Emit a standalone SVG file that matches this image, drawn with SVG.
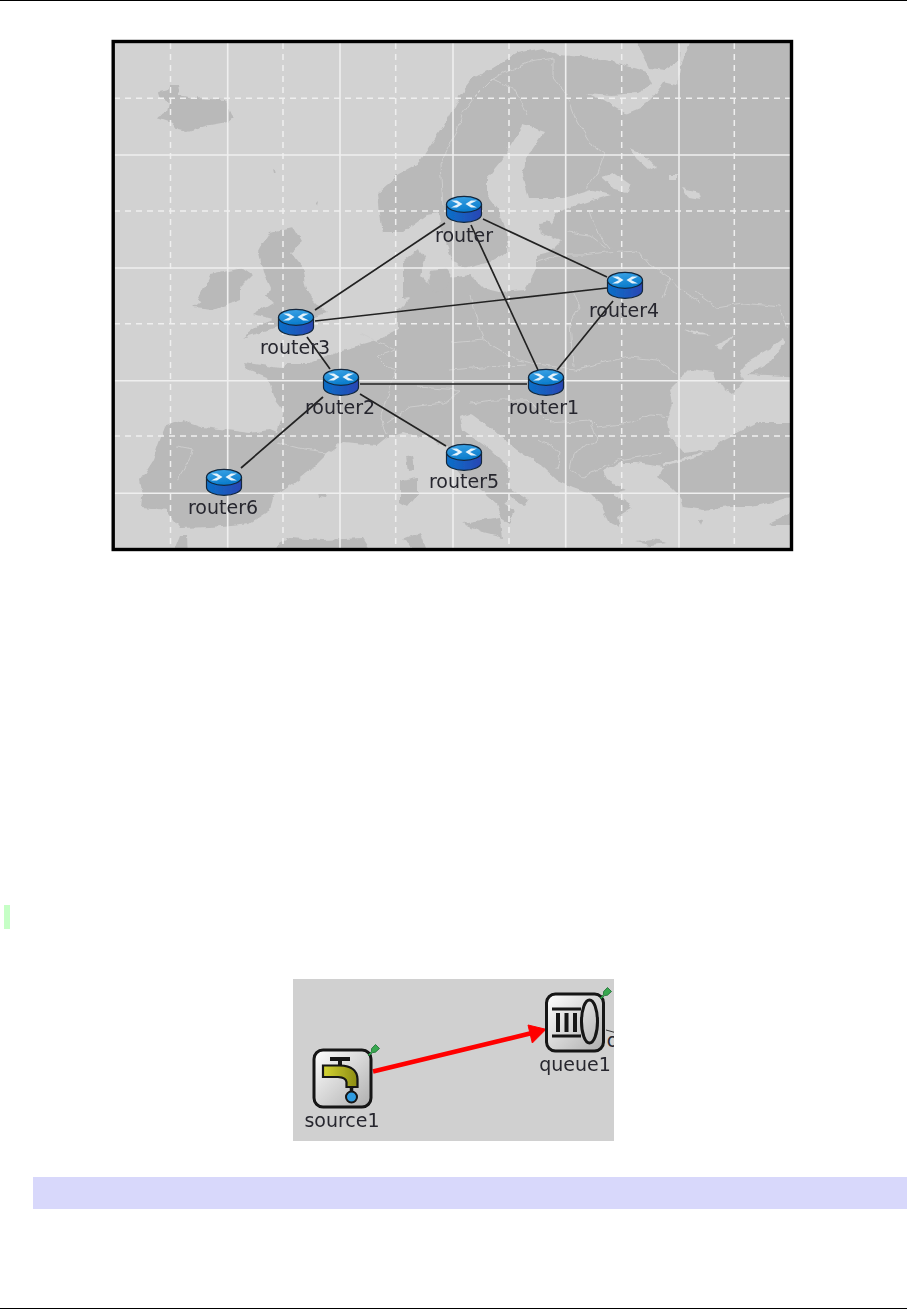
<svg xmlns="http://www.w3.org/2000/svg" xmlns:xlink="http://www.w3.org/1999/xlink" width="907" height="1310" viewBox="0 0 907 1310">
<style>
text{font-family:"DejaVu Sans","Liberation Sans",sans-serif;font-size:19px;fill:#26262e;text-anchor:middle}
.land{fill:#b9b9b9}
.sea{fill:#d2d2d2}
.border{fill:none;stroke:#cdcdcd;stroke-width:1}
.solid{stroke:#efefef;stroke-width:1.6;fill:none}
.dash{stroke:#efefef;stroke-width:1.5;stroke-dasharray:6 5;fill:none}
.link{stroke:#222222;stroke-width:1.7;fill:none}
.tile{stroke:#121212;stroke-width:3;fill:url(#tileGrad)}
.blk{stroke:#121212;fill:none}
.node{filter:url(#crisp)}
</style>
<defs>
<linearGradient id="topGrad" x1="0" y1="0" x2="0.3" y2="1"><stop offset="0" stop-color="#3fa6e8"/><stop offset="1" stop-color="#0a7ccc"/></linearGradient>
<linearGradient id="sideGrad" x1="0" y1="0" x2="1" y2="0"><stop offset="0" stop-color="#0a70c8"/><stop offset="1" stop-color="#2a46b4"/></linearGradient>
<linearGradient id="tileGrad" x1="0" y1="0" x2="1" y2="1"><stop offset="0" stop-color="#ffffff"/><stop offset="1" stop-color="#aeaeae"/></linearGradient>
<linearGradient id="tapGrad" x1="0" y1="0" x2="1" y2="0"><stop offset="0" stop-color="#d4d434"/><stop offset="1" stop-color="#8c8c14"/></linearGradient>
<filter id="rough" filterUnits="userSpaceOnUse" x="100" y="30" width="710" height="530">
<feTurbulence type="fractalNoise" baseFrequency="0.09" numOctaves="3" seed="4" result="n"/>
<feDisplacementMap in="SourceGraphic" in2="n" scale="6" xChannelSelector="R" yChannelSelector="G"/>
<feGaussianBlur stdDeviation="0.6"/>
</filter>
<filter id="crisp" x="-10%" y="-10%" width="120%" height="120%"><feGaussianBlur stdDeviation="0.35"/></filter>
<clipPath id="mapClip"><rect x="114" y="43" width="677" height="506"/></clipPath>
<clipPath id="shotClip"><rect x="293" y="979" width="321" height="162"/></clipPath>
<g id="routerIcon">
<path d="M-17.5,-4.7V5.3A17.5,8 0 0 0 17.5,5.3V-4.7Z" fill="url(#sideGrad)" stroke="#12283e" stroke-width="1.2"/>
<ellipse cx="0" cy="-4.7" rx="17.5" ry="8" fill="url(#topGrad)" stroke="#12283e" stroke-width="1.2"/>
<path d="M-13,-8.5L-7,-8.5L-1.5,-5L-7,-1.5L-13,-1.5L-8.5,-3.7L-6,-5L-8.5,-6.3ZM13,-8.5L7,-8.5L1.5,-5L7,-1.5L13,-1.5L8.5,-3.7L6,-5L8.5,-6.3Z" fill="#e6f3fb"/>
</g>
<path id="pin" d="M0,0L3.4,-3.4L3.6,-6.5L7.5,-10.5L11.5,-6.5L7.5,-2.8L4.6,-2.4L1,1Z" fill="#37a850" stroke="#1c6a30" stroke-width="0.8"/>
</defs>
<rect width="907" height="1310" fill="#ffffff"/>
<rect id="top-rule" x="0" y="0" width="907" height="1" fill="#000000"/>
<rect id="bottom-rule" x="0" y="1308" width="907" height="1" fill="#000000"/>
<rect id="green-bar" x="4" y="905" width="6" height="24" fill="#c6ffc6"/>
<rect id="blue-bar" x="33" y="1177" width="874" height="32" fill="#d8d8fb"/>

<g id="map" clip-path="url(#mapClip)">
<rect x="112" y="41" width="680" height="510" class="sea"/>
<g filter="url(#rough)">
<path class="land" d="M805,30V493L770,503L750,507L730,507L703,510L683,507L680,497L670,487L657,477L663,467L637,463L620,463L603,472L607,480L627,490L613,493L633,507L617,517L620,528L610,523L600,503L590,493L573,487L557,480L543,467L517,450L493,430L470,413L460,417L463,430L487,447L507,467L510,478L505,485L528,500L525,505L510,497L503,503L515,510L510,525L503,520L497,505L480,490L465,478L450,462L447,447L427,437L403,433L387,437L377,445L343,442L327,453L310,470L293,483L273,497L270,510L250,523L210,527L180,528L167,510L142,507L143,497L140,480L153,460L160,440L165,427L183,420L203,427L250,433L270,430L277,433L280,423L283,410L273,397L270,387L267,378L247,370L243,362L280,368L287,363L310,363L327,357L343,350L377,340L397,330L397,310L410,297L403,298L403,262L420,248L425,260L420,275L430,285L450,278L470,275L483,288L500,292L525,290L537,268L537,255L550,252L560,242L540,232L550,225L557,212L587,202L610,195L590,190L563,198L528,198L522,175L527,158L545,132L523,125L500,162L487,178L487,195L500,212L507,235L507,252L490,262L467,268L453,262L443,235L438,213L427,215L403,232L383,232L380,215L378,192L397,175L420,162L443,128L450,115L460,95L473,78L493,68L517,53L543,48L560,55L590,58L617,63L647,72L652,85L637,93L613,95L587,93L603,100L625,113L650,122L648,129L632,125L623,115L640,108L650,100L663,82L677,85L680,68L695,30Z"/>
<path class="sea" d="M680,380L690,370L713,373L717,383L733,393L743,380L740,372L750,360L770,348L783,338L785,343L770,362L747,375L805,378V423H757L723,440L710,450L683,453L670,437L667,423L673,403L670,390Z"/>
<path class="sea" d="M600,176L613,172L630,184L628,192L614,189ZM630,148L640,152L657,168L650,171L638,160ZM670,175H677V179H670ZM682,188L698,192L700,199L688,197ZM683,328L695,331L710,335L695,334ZM715,345L725,340L735,335L728,343L720,352Z"/>
<path d="M663,465L685,459L703,453" fill="none" stroke="#d2d2d2" stroke-width="2.4"/>
<path class="land" d="M158,92L168,90L172,85L178,85L180,95L193,98L225,100L230,113L233,117L227,122L210,125L187,132L178,130L172,122L157,117L167,112L169,103L160,98Z"/>
<path class="land" d="M258,252L260,248L270,232L293,227L302,242L290,252L303,268L307,288L313,300L323,310L327,313L313,317L310,327L277,327L243,338L260,325L273,320L253,315L273,303L267,297L270,288L263,272Z"/>
<path class="land" d="M210,275L243,268L253,275L240,288L240,300L213,310L193,308L207,297L203,305L198,300Z"/>
<path class="land" d="M430,270L445,268L452,278L445,290L435,293L428,282ZM407,457L413,456L415,470L409,471ZM400,480L418,477L418,493L407,507L400,503ZM463,523L500,517L503,537L483,532ZM637,542L652,540L667,543L650,545ZM317,493L327,495L326,498L318,497ZM170,560L180,535L187,535L188,560ZM253,560L290,538L323,540L363,538L377,560ZM403,540L420,533L430,560ZM770,523L805,505V525L773,525ZM698,519L703,520L701,526ZM507,243L510,243L509,249ZM272,170L275,172L273,174ZM316,204L319,201L318,206ZM540,223L549,221L551,231L542,232ZM630,30L682,30L680,60L664,70L650,68L643,54Z"/>
<path class="border" d="M443,205L440,165L447,150L457,132L463,112L473,98L493,78L513,88L528,115M493,78L530,62L553,58L553,78L567,95L577,122L590,142L605,153L597,175L585,190M590,212L597,232L610,248M567,232L590,235L607,248M537,262L560,255L583,255L607,252L637,250L647,262L670,278L663,298M670,278L683,292L700,302M693,290L717,307L743,303L780,307L783,320L787,327M573,370L600,363L630,357L657,360L677,373M590,420L597,427L630,423L650,415L670,417M550,423L590,420L597,440L573,453L570,470L583,477L620,460L663,453M450,343L483,340L517,360L533,363L573,370M450,370L483,367L527,365M470,403L493,400L527,400L547,420L550,423M540,440L560,453L557,470M397,350L377,357L387,367L397,370L380,417L387,433M417,387L460,390L443,403L410,407L387,423M277,443L303,450L327,453M177,447L193,450L190,460L177,480M360,333L395,350M470,295L480,330L483,340M573,290L580,307L570,323L573,367"/>
</g>
<path class="solid" d="M227.7,43V549M340,43V549M453,43V549M565.7,43V549M679,43V549M114,155H791M114,268H791M114,380.7H791M114,493.3H791"/>
<path class="dash" d="M170.5,43V549M283,43V549M395.7,43V549M509,43V549M621.7,43V549M734.3,43V549M114,98.3H791M114,211H791M114,323.7H791M114,436H791"/>
</g>
<rect id="map-frame" x="113.2" y="41.5" width="678.3" height="508" fill="none" stroke="#000000" stroke-width="3.4"/>
<rect id="shot-bg" x="293" y="979" width="321" height="162" fill="#d0d0d0"/>

<g id="connectors" class="node">
<path class="link" d="M445,223L315,310M483,219L607,277M471,225L538,370M315,321L607,288M307,337L330,369M360,384H527M613,301L557,370M323,397L241,468M360,394L446,446"/>
<path d="M373,1071.5L534,1032.5" fill="none" stroke="#ff0000" stroke-width="4.6"/>
<path d="M546,1029.3L528,1025L532.3,1043Z" fill="#ff0000" stroke="#ff0000" stroke-width="1"/>
</g>

<g id="router" class="node"><use xlink:href="#routerIcon" href="#routerIcon" x="464" y="209"/><text x="464" y="241.5">router</text></g>
<g id="router4" class="node"><use xlink:href="#routerIcon" href="#routerIcon" x="625" y="285"/><text x="624" y="316.7">router4</text></g>
<g id="router3" class="node"><use xlink:href="#routerIcon" href="#routerIcon" x="296" y="322"/><text x="295" y="354">router3</text></g>
<g id="router2" class="node"><use xlink:href="#routerIcon" href="#routerIcon" x="341" y="382"/><text x="340" y="414">router2</text></g>
<g id="router1" class="node"><use xlink:href="#routerIcon" href="#routerIcon" x="546" y="382"/><text x="544" y="414">router1</text></g>
<g id="router5" class="node"><use xlink:href="#routerIcon" href="#routerIcon" x="464" y="457"/><text x="464" y="488">router5</text></g>
<g id="router6" class="node"><use xlink:href="#routerIcon" href="#routerIcon" x="224" y="482"/><text x="223" y="514">router6</text></g>

<g id="source1" class="node">
<rect class="tile" x="314" y="1050" width="57" height="57" rx="9"/>
<path d="M330,1059H350" stroke="#121212" stroke-width="4" fill="none"/>
<path d="M340,1059V1066" stroke="#121212" stroke-width="4" fill="none"/>
<path d="M323,1065.5H340Q357,1066 357.5,1079V1087H346.5V1082Q346,1077.5 338,1077H323Z" fill="url(#tapGrad)" stroke="#121212" stroke-width="2.2"/>
<circle cx="351.500" cy="1097" r="5.5" fill="#2e9be0" stroke="#121212" stroke-width="2"/>
<path d="M351.500,1087V1092" stroke="#121212" stroke-width="3.5"/>
<use xlink:href="#pin" href="#pin" x="368" y="1055"/>
<text x="342" y="1126.5">source1</text>
</g>
<g id="queue1" class="node">
<rect class="tile" x="546.500" y="994" width="57" height="57" rx="9"/>
<path class="blk" stroke-width="3" d="M552,1009H581M552,1036H581"/>
<path class="blk" stroke-width="4" d="M558,1013V1032M566.500,1013V1032M575,1013V1032"/>
<ellipse class="blk" cx="589.500" cy="1021.500" rx="8" ry="21.500" stroke-width="3"/>
<use xlink:href="#pin" href="#pin" x="600" y="998"/>
<text x="575" y="1070.5">queue1</text>
</g>
<g id="clipped-label" clip-path="url(#shotClip)">
<path d="M606,1030L615,1032.5" stroke="#333333" stroke-width="1" fill="none"/>
<text x="612.500" y="1047">o</text>
</g>
</svg>
